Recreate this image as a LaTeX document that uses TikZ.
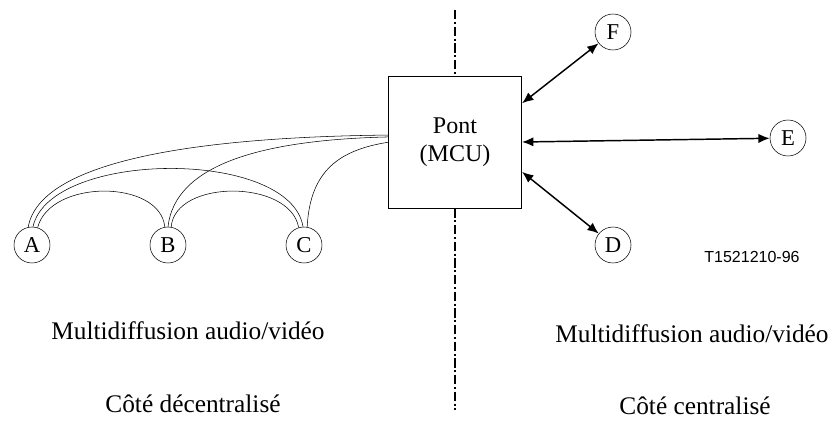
\documentclass[tikz,border=0pt]{standalone}
\usepackage{fontspec}
\setmainfont{Liberation Serif}
\newfontfamily\labelfont{Liberation Sans}
\usetikzlibrary{arrows.meta}

\begin{document}
\begin{tikzpicture}[x=0.75pt,y=-0.75pt,
            term/.style={shape=circle, draw, inner sep=0pt, minimum size=27pt, font=\fontsize{17}{19}\selectfont},
            bridge/.style={shape=rectangle, draw, semithick, minimum width=100pt, minimum height=99pt, align=center, font=\fontsize{18}{21}\selectfont},
            link/.style={{Latex[length=8.5pt,width=7pt]}-{Latex[length=8.5pt,width=7pt]}, line width=1.1pt},
            caption/.style={font=\fontsize{19}{22}\selectfont}]
				\useasboundingbox (0,0) rectangle (834,421);

				\node[bridge] (mcu) at (455,142) {Pont\\(MCU)};
				\node[term] (nA) at (32,245) {A};
				\node[term] (nB) at (168,245) {B};
				\node[term] (nC) at (304,245) {C};
				\node[term] (nD) at (613,245) {D};
				\node[term] (nE) at (788,138) {E};
				\node[term] (nF) at (613,32) {F};

				% limite entre les deux cotes
				\coordinate (top) at (455,10);
				\coordinate (bottom) at (455,410);
				\draw[line width=1.4pt, dash pattern=on 7pt off 2pt on 1.5pt off 2pt] (top) -- (mcu.north);
				\draw[line width=1.4pt, dash pattern=on 7pt off 2pt on 1.5pt off 2pt] (mcu.south) -- (bottom);

				% multidiffusion decentralisee
				\draw (nA.102) .. controls (40,160) and (200,137) .. ([yshift=5.2pt]mcu.west);
				\draw (nA.87) .. controls (50,150) and (290,148) .. (nC.93);
				\draw (nA.72) .. controls (50,179) and (160,179) .. (nB.100);
				\draw (nB.90) .. controls (175,165) and (260,140) .. ([yshift=3.8pt]mcu.west);
				\draw (nB.80) .. controls (175,179) and (290,179) .. (nC.107);
				\draw (nC.80) .. controls (310,170) and (340,150) .. ([yshift=-0.2pt]mcu.west);

				% multidiffusion centralisee
				\draw[link] (mcu.30) -- (nF);
				\draw[link] (mcu.east) -- (nE);
				\draw[link] (mcu.-24) -- (nD);

				\node[font=\labelfont\fontsize{12}{14}\selectfont] (ref) at (752,257) {T1521210-96};
				\node[caption] (multiL) at (188,331) {Multidiffusion audio/vidéo};
				\node[caption] (multiR) at (692,334) {Multidiffusion audio/vidéo};
				\node[caption] (sideL) at (193,404) {Côté décentralisé};
				\node[caption] (sideR) at (695,406) {Côté centralisé};
 		\end{tikzpicture}
\end{document}
